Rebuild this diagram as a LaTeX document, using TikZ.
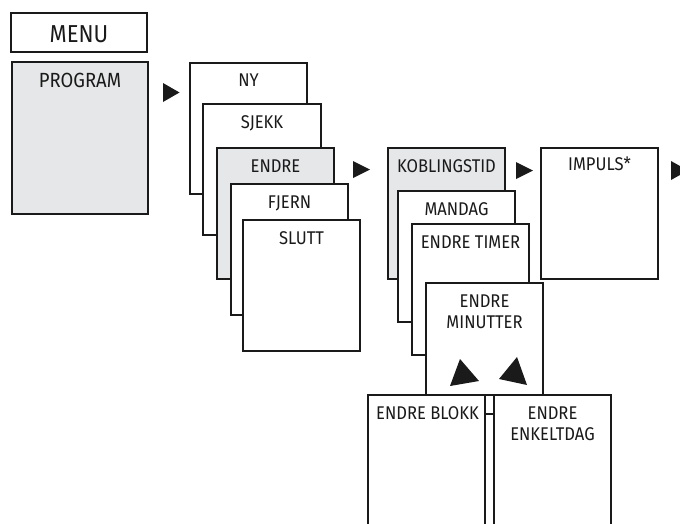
\documentclass[tikz,border=0pt]{standalone}
\usepackage{fontspec}
\setmainfont{Fira Sans}[FakeStretch=0.9]
\definecolor{boxgray}{HTML}{E6E7E8}
\definecolor{ink}{HTML}{1A1A1A}
\begin{document}
\begin{tikzpicture}[x=1pt,y=-1pt,
  box/.style={draw=ink, line width=1.1pt, fill=white, rectangle, anchor=north west, inner sep=0pt, outer sep=0pt},
  graybox/.style={box, fill=boxgray},
  lbl/.style={anchor=base, inner sep=0pt, text=ink, font=\fontsize{18.4}{22}\selectfont, align=center},
  tri/.style={fill=ink, draw=none}]
\useasboundingbox (0,0) rectangle (680,523);
\begin{scope}
\clip (0,0) rectangle (680,523);
% MENU
\node[box, minimum width=136, minimum height=39] (menu) at (11,13) {};
\node[lbl, font=\fontsize{24.5}{28}\selectfont] (menut) at (79,42) {MENU};
% PROGRAM
\node[graybox, minimum width=136, minimum height=152] (prog) at (12,62) {};
\node[lbl, font=\fontsize{20.5}{24}\selectfont] (progt) at (80,87) {PROGRAM};
% arrow 1
\fill[tri] (163,83) -- (179.5,92.5) -- (163,102) -- cycle;
% first stack
\node[box, minimum width=117, minimum height=131] (ny) at (190,63) {};
\node[lbl] (nyt) at (248.5,86) {NY};
\node[box, minimum width=118, minimum height=131] (sjekk) at (203,104) {};
\node[lbl] (sjekkt) at (262,128) {SJEKK};
\node[graybox, minimum width=117, minimum height=131] (endre) at (217,148) {};
\node[lbl] (endret) at (275.5,172) {ENDRE};
\node[box, minimum width=117, minimum height=131] (fjern) at (231,184) {};
\node[lbl] (fjernt) at (289.5,208) {FJERN};
\node[box, minimum width=117, minimum height=131] (slutt) at (243,220) {};
\node[lbl] (sluttt) at (301.5,244) {SLUTT};
% arrow 2
\fill[tri] (353,161) -- (370,169.5) -- (353,178) -- cycle;
% second stack
\node[graybox, minimum width=117, minimum height=131] (kobl) at (388,148) {};
\node[lbl] (koblt) at (446.5,172) {KOBLINGSTID};
\node[box, minimum width=117, minimum height=131] (mandag) at (398,191) {};
\node[lbl] (mandagt) at (456.5,215) {MANDAG};
\node[box, minimum width=117, minimum height=131] (timer) at (412,224) {};
\node[lbl] (timert) at (470.5,248) {ENDRE TIMER};
\node[box, minimum width=117, minimum height=112] (minut) at (426,283) {};
\node[lbl] (minutt1) at (484.5,307) {ENDRE};
\node[lbl] (minutt2) at (484.5,328) {MINUTTER};
% up arrows
\fill[tri] (460,359) -- (479,381) -- (450,386) -- cycle;
\fill[tri] (517,357) -- (527,385) -- (499,379) -- cycle;
% lower boxes
\node[box, minimum width=117, minimum height=150] (blokk) at (368,395) {};
\node[lbl] (blokkt) at (427.5,419) {ENDRE BLOKK};
\node[box, minimum width=117, minimum height=150] (enkelt) at (494,395) {};
\node[lbl] (enkeltt1) at (552.5,419) {ENDRE};
\node[lbl] (enkeltt2) at (552.5,440) {ENKELTDAG};
\coordinate (lk) at (0,414);
\draw[draw=ink, line width=1.1pt] (blokk.east |- lk) -- (enkelt.west |- lk);
% arrow 3
\fill[tri] (516,162) -- (533,170.5) -- (516,179) -- cycle;
% IMPULS
\node[box, minimum width=117, minimum height=131] (impuls) at (541,148) {};
\node[lbl] (impulst) at (599.5,170) {IMPULS*};
% arrow 4
\fill[tri] (671,161) -- (688,170.5) -- (671,180) -- cycle;
\end{scope}
\end{tikzpicture}
\end{document}
